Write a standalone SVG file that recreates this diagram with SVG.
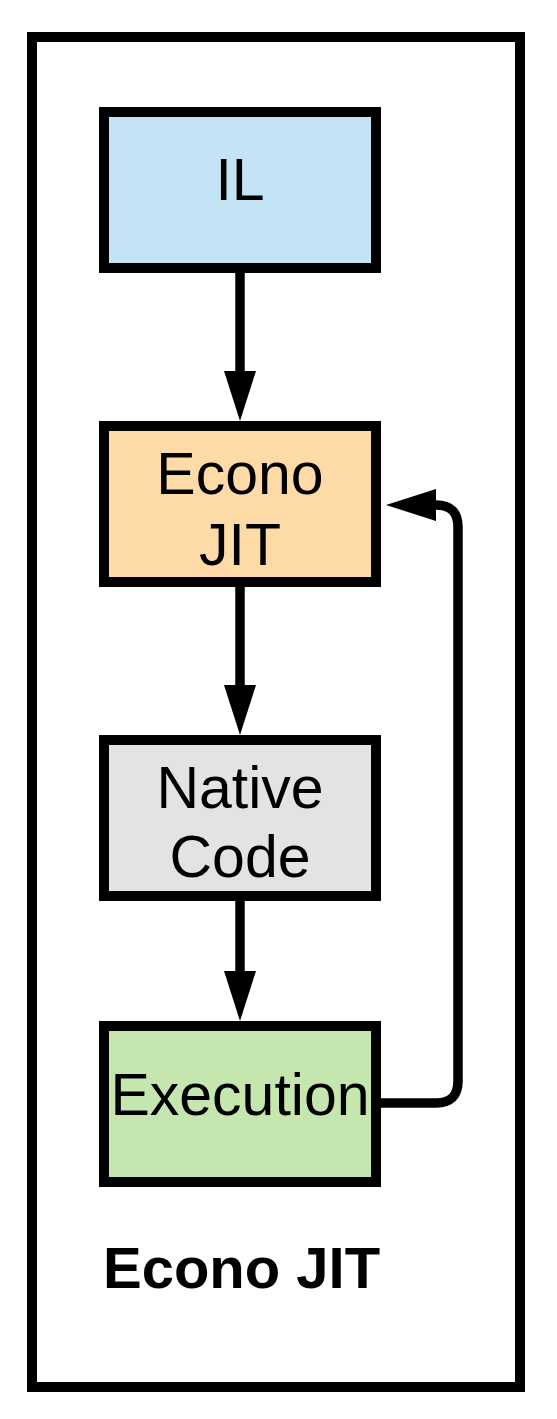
<svg xmlns="http://www.w3.org/2000/svg" width="557" height="1419" viewBox="0 0 557 1419">
<style>
.box{stroke:#000;stroke-width:10}
.t{font-family:"Liberation Sans",Arial,sans-serif;font-size:59px;fill:#000;text-anchor:middle}
.conn{fill:none;stroke:#000;stroke-width:9.5}
</style>
<defs>
<marker id="ah" markerUnits="userSpaceOnUse" markerWidth="50" markerHeight="32" refX="2" refY="16" orient="auto" overflow="visible">
<path d="M0,0 L50,16 L0,32 Z" fill="#000"/>
</marker>
</defs>
<rect x="32" y="37" width="488" height="1350" fill="#fff" stroke="#000" stroke-width="10"/>
<g id="connectors">
<path class="conn" d="M240,273 V373" marker-end="url(#ah)"/>
<path class="conn" d="M240,587 V687" marker-end="url(#ah)"/>
<path class="conn" d="M240,901 V973" marker-end="url(#ah)"/>
<path class="conn" d="M380,1103 H436 Q458,1103 458,1081 V527 Q458,505 436,505 H434" marker-end="url(#ah)"/>
</g>
<g id="il"><rect class="box" x="104" y="112" width="272" height="156" fill="#c2e4f5"/><text class="t" x="240" y="200">IL</text></g>
<g id="econo"><rect class="box" x="104" y="426" width="272" height="156" fill="#fedba6"/><text class="t" x="240" y="494">Econo</text><text class="t" x="240" y="565">JIT</text></g>
<g id="native"><rect class="box" x="104" y="740" width="272" height="156" fill="#e3e3e3"/><text class="t" x="240" y="808">Native</text><text class="t" x="240" y="877">Code</text></g>
<g id="execution"><rect class="box" x="104" y="1026" width="272" height="156" fill="#c5e6ae"/><text class="t" x="240" y="1115">Execution</text></g>
<g id="label"><text x="103" y="1288" font-family="'Liberation Sans',Arial,sans-serif" font-weight="bold" font-size="58">Econo JIT</text></g>
</svg>
